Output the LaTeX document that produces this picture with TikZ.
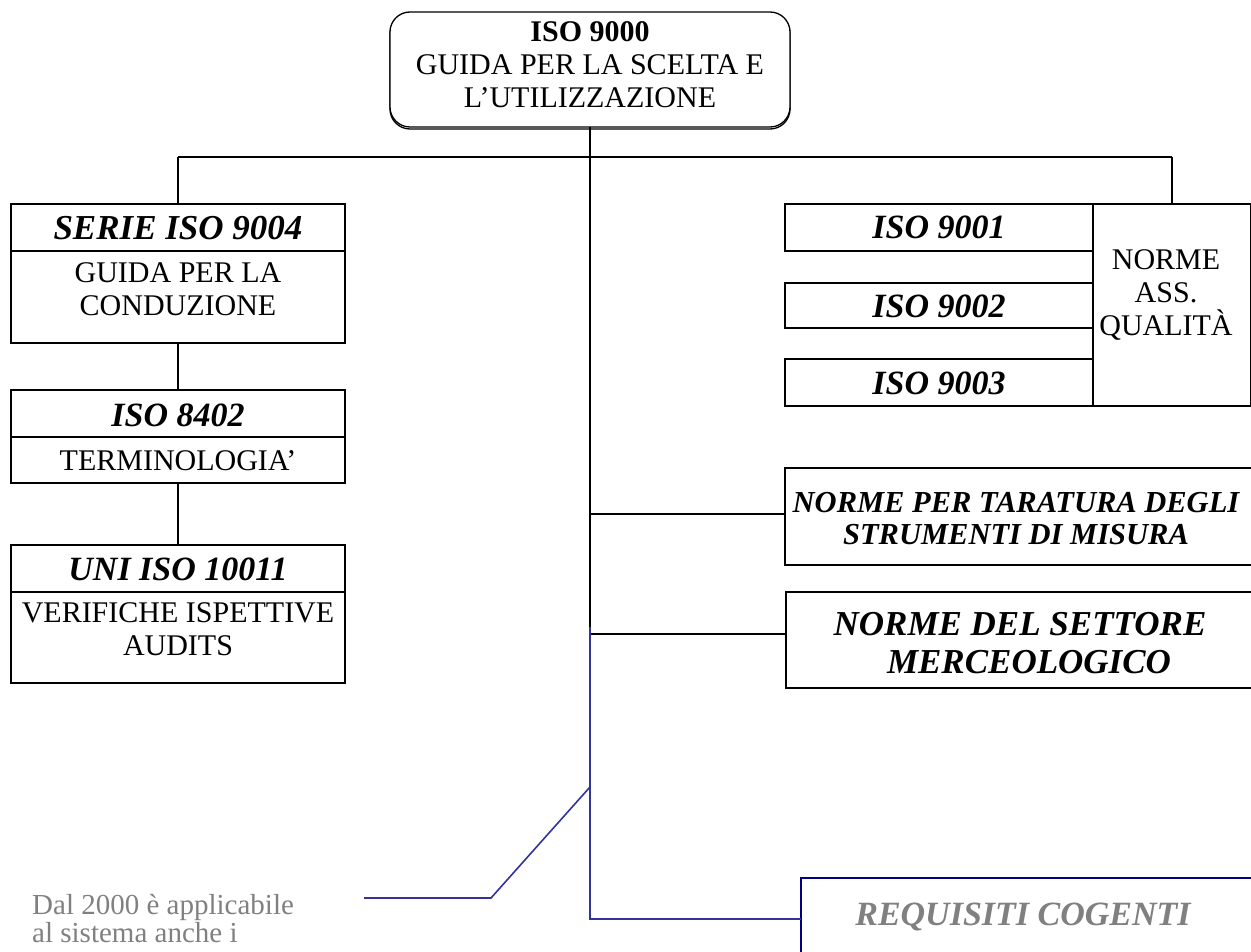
\documentclass[tikz,border=0pt]{standalone}
\usepackage{fontspec}
\setmainfont{Liberation Serif}
\newcommand\myfs[1]{\fontsize{#1}{#1}\selectfont}
\definecolor{linkblue}{RGB}{51,51,153}
\definecolor{boxblue}{RGB}{0,0,128}
\definecolor{txtgray}{RGB}{128,128,128}
\begin{document}
\begin{tikzpicture}[x=1pt,y=-1pt,
  frame/.style={draw=black, line width=1.3pt, inner sep=0pt, outer sep=0pt, fill=white},
  conn/.style={draw=black, line width=2.6pt},
  bl/.style={draw=linkblue, line width=1.6pt},
  tt/.style={anchor=base, inner sep=0pt, font=\myfs{34}\bfseries\itshape},
  bd/.style={anchor=base, inner sep=0pt, font=\myfs{30}},
  gr/.style={anchor=base west, inner sep=0pt, font=\myfs{29}, text=txtgray}]
\useasboundingbox (0,0) rectangle (1251,952);

% junctions
\coordinate (jl) at (178,157);
\coordinate (jr) at (1172,157);
\coordinate (c1) at (590,514);
\coordinate (c2) at (590,634);
\coordinate (b0) at (590,627);
\coordinate (b1) at (590,787);
\coordinate (b2) at (590,919);
\coordinate (d1) at (491,898);
\coordinate (d2) at (364,898);

% top box
\node[frame, rounded corners=20pt, minimum width=400pt, minimum height=115pt] (topsh) at (590,71.5) {};
\node[frame, rounded corners=20pt, minimum width=400pt, minimum height=115pt] (top) at (590,69.5) {};
\node[bd, font=\myfs{30}\bfseries] (top1) at (590,42) {ISO 9000};
\node[bd] (top2) at (590,75) {GUIDA PER LA SCELTA E};
\node[bd] (top3) at (590,108) {L’UTILIZZAZIONE};

% trunk and bus
\draw[conn] (top.south) -- (b0);
\draw[conn] (jl) -- (jr);

% left column
\node[frame, minimum width=334pt, minimum height=47pt] (s1t) at (178,227.5) {};
\node[frame, minimum width=334pt, minimum height=92pt] (s1b) at (178,297) {};
\node[tt, font=\myfs{35}\bfseries\itshape] (s1tx) at (178,240) {SERIE ISO 9004};
\node[bd] (s1b1) at (178,283) {GUIDA PER LA};
\node[bd] (s1b2) at (178,316) {CONDUZIONE};

\node[frame, minimum width=334pt, minimum height=47pt] (s2t) at (178,413.5) {};
\node[frame, minimum width=334pt, minimum height=46pt] (s2b) at (178,460) {};
\node[tt] (s2tx) at (178,426) {ISO 8402};
\node[bd] (s2b1) at (178,470) {TERMINOLOGIA’};

\node[frame, minimum width=334pt, minimum height=47pt] (s3t) at (178,568.5) {};
\node[frame, minimum width=334pt, minimum height=91pt] (s3b) at (178,637.5) {};
\node[tt] (s3tx) at (178,580) {UNI ISO 10011};
\node[bd] (s3b1) at (178,622) {VERIFICHE ISPETTIVE};
\node[bd] (s3b2) at (178,655) {AUDITS};

\draw[conn] (jl) -- (s1t.north);
\draw[conn] (s1b.south) -- (s2t.north);
\draw[conn] (s2b.south) -- (s3t.north);

% right group
\node[frame, minimum width=308pt, minimum height=47pt] (i1) at (939,227.5) {};
\node[frame, minimum width=308pt, minimum height=45pt] (i2) at (939,305.5) {};
\node[frame, minimum width=308pt, minimum height=47pt] (i3) at (939,382.5) {};
\node[tt] (i1x) at (939,239) {ISO 9001};
\node[tt] (i2x) at (939,317) {ISO 9002};
\node[tt] (i3x) at (939,394) {ISO 9003};
\node[frame, minimum width=158pt, minimum height=202pt] (qa) at (1172,305) {};
\node[bd] (qa1) at (1166,270) {NORME};
\node[bd] (qa2) at (1166,302) {ASS.};
\node[bd] (qa3) at (1166,335) {QUALITÀ};
\draw[conn] (jr) -- (qa.north);

% taratura
\node[frame, minimum width=475pt, minimum height=97pt] (tar) at (1022.5,516.5) {};
\node[tt, font=\myfs{30.5}\bfseries\itshape] (tar1) at (1016,512) {NORME PER TARATURA DEGLI};
\node[tt, font=\myfs{30.5}\bfseries\itshape] (tar2) at (1016,544) {STRUMENTI DI MISURA};
\draw[conn] (c1) -- (c1 -| tar.west);

% settore
\node[frame, minimum width=474pt, minimum height=96pt] (set) at (1023,640) {};
\node[tt, font=\myfs{35}\bfseries\itshape] (set1) at (1020,635) {NORME DEL SETTORE};
\node[tt, font=\myfs{35}\bfseries\itshape] (set2) at (1029,673) {MERCEOLOGICO};
\draw[conn] (c2) -- (c2 -| set.west);

% requisiti
\node[frame, draw=boxblue, line width=1.6pt, minimum width=464pt, minimum height=90pt] (req) at (1033,923) {};
\node[tt, text=txtgray] (req1) at (1023,925) {REQUISITI COGENTI};
\draw[bl] (b0) -- (b2) -- (b2 -| req.west);
\draw[bl] (b1) -- (d1) -- (d2);

% note
\node[gr] (n1) at (32,914) {Dal 2000 è applicabile};
\node[gr] (n2) at (32,942) {al sistema anche i};
\end{tikzpicture}
\end{document}
